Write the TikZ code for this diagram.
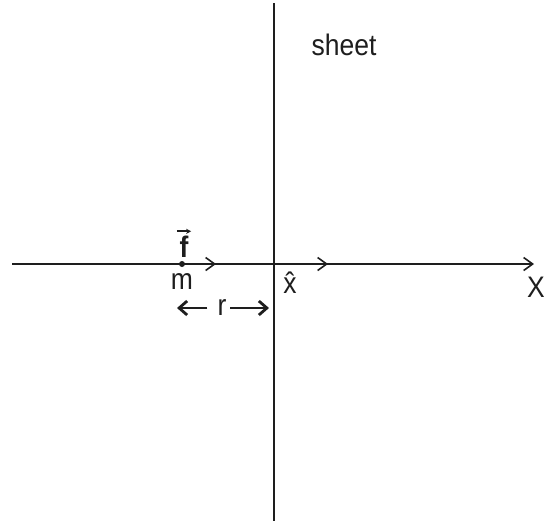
\documentclass[tikz,border=0pt]{standalone}
\usepackage{graphicx}
\usepackage{fontspec}
\setmainfont{Liberation Sans}
\usetikzlibrary{arrows.meta}
\definecolor{ink}{HTML}{1E1E1E}
\newcommand{\tallt}[1]{\scalebox{1}[1.12]{#1}}
\tikzset{
  axis/.style={draw=ink, line width=1.6pt},
  vec/.style={-{Straight Barb[length=9pt,width=13pt]}, draw=ink, line width=1.6pt},
  span/.style={-{Straight Barb[length=8pt,width=14pt]}, draw=ink, line width=2.8pt},
  fvec/.style={-{Stealth[length=5pt,width=5pt]}, draw=ink, line width=1.8pt},
  lbl/.style={font=\fontsize{26.5}{30}\selectfont, text=ink, inner sep=0pt, anchor=base},
  dot/.style={circle, fill=ink, inner sep=0pt, minimum size=6pt}
}
\begin{document}
\begin{tikzpicture}[x=1pt,y=-1pt]
  \useasboundingbox (0,0) rectangle (548,523);
  % axis and sheet
  \coordinate (xl) at (12,264);
  \coordinate (xr) at (534,264);
  \coordinate (st) at (274,3);
  \coordinate (sb) at (274,521);
  \draw[axis] (st) -- (sb);
  \draw[vec] (xl) -- (xr);
  % mass with its force, and the unit vector
  \node[dot] (m) at (182,264) {};
  \coordinate (mf) at (216,264);
  \coordinate (o) at (274,264);
  \coordinate (ox) at (328,264);
  \draw[vec] (m.center) -- (mf);
  \draw[vec] (o) -- (ox);
  % labels
  \node[lbl] (sheet) at (344,55) {\tallt{sheet}};
  \node[lbl] (mlbl) at (182,289) {\tallt{m}};
  \node[lbl, inner xsep=2.5pt] (f) at (184,257) {\tallt{\textbf{f}}};
  \draw[fvec] ([yshift=4pt]f.north west) -- ([yshift=4pt]f.north east);
  \node[lbl] (X) at (536,297) {\tallt{X}};
  \node[lbl] (xhat) at (290,293) {\tallt{\^{x}}};
  % distance r
  \node[lbl, anchor=center] (r) at (222,308) {\tallt{r}};
  \coordinate (rl) at (177,308);
  \coordinate (rr) at (269,308);
  \draw[span] ([xshift=-10pt]r.west) -- (rl);
  \draw[span] ([xshift=3.5pt]r.east) -- (rr);
\end{tikzpicture}
\end{document}
